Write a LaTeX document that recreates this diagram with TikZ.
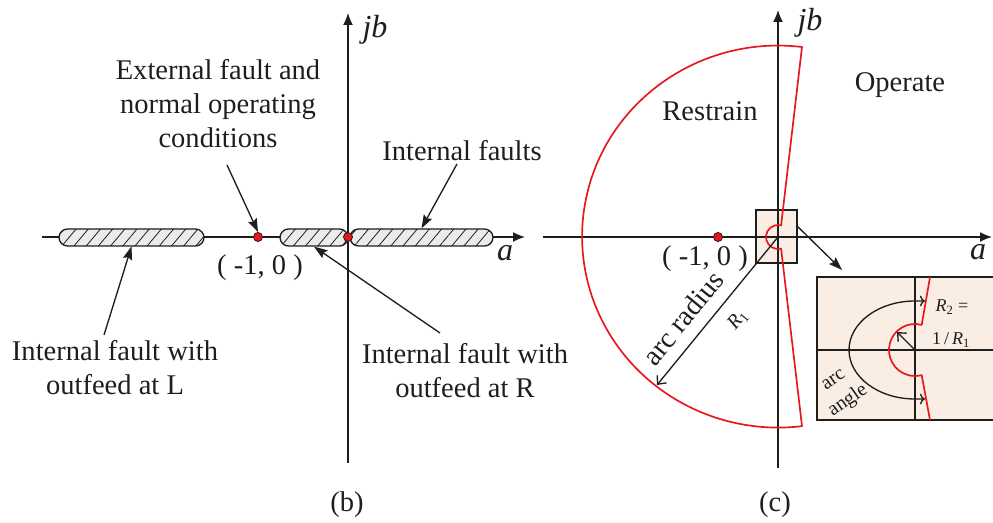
\documentclass[tikz,border=0pt]{standalone}
\usepackage{fontspec}
\setmainfont{Liberation Serif}
\usetikzlibrary{positioning,arrows.meta,patterns.meta}
\definecolor{zonered}{HTML}{E8161C}
\definecolor{inkgray}{HTML}{1E1E1E}
\definecolor{boxbeige}{HTML}{F9EDE4}
\definecolor{hatchgray}{HTML}{EBEBEB}
\begin{document}
\begin{tikzpicture}[x=0.75pt,y=-0.75pt,font=\fontsize{21.4}{25.5}\selectfont,text=inkgray,
axis/.style={line width=1.1pt,draw=inkgray,-{Latex[length=9pt,width=7.5pt]}},
pointer/.style={line width=1pt,draw=inkgray,-{Stealth[length=10pt,width=7pt,inset=1.5pt]}},
barb/.style={line width=1pt,draw=inkgray,-{Straight Barb[length=5pt,width=9pt]}},
bar/.style={draw=inkgray,line width=1pt,rounded corners=6.4pt,minimum height=12.75pt,inner sep=0pt,preaction={fill=hatchgray},pattern={Lines[angle=50,distance=7pt,line width=.6pt]},pattern color=inkgray},
reddot/.style={circle,draw=inkgray,line width=.6pt,fill=zonered,minimum size=6.8pt,inner sep=0pt},
zoomfill/.style={draw=inkgray,line width=1pt,fill=boxbeige,inner sep=0pt},
redline/.style={draw=zonered,line width=1.25pt,line join=round},
axlabel/.style={font=\fontsize{24}{28}\selectfont\itshape},
small/.style={font=\fontsize{15}{19}\selectfont},
tiny/.style={font=\fontsize{13.5}{16}\selectfont}]
\useasboundingbox (0,0) rectangle (993,523);
\clip (0,0) rectangle (993,523);
% zoom boxes of (c)
\node[zoomfill,minimum width=30.75pt,minimum height=39.75pt] (zoomBox) at (776.5,236.5) {};
\node[zoomfill,minimum width=137.25pt,minimum height=107.25pt] (zoomInset) at (908.5,348.5) {};
\coordinate (insetTop) at (915,277); \coordinate (insetBot) at (915,420);
\coordinate (insetLeft) at (817,350); \coordinate (insetRight) at (1000,350);
\draw[line width=1pt,draw=inkgray] (insetTop) -- (insetBot) (insetLeft) -- (insetRight);
% axes
\coordinate (axBw) at (42,237); \coordinate (axBe) at (525,237);
\coordinate (axBs) at (348,463); \coordinate (axBn) at (348,13);
\coordinate (axCw) at (543,237); \coordinate (axCe) at (992,237);
\coordinate (axCs) at (778,468); \coordinate (axCn) at (778,10);
\foreach \a/\b in {axBw/axBe,axBs/axBn,axCw/axCe,axCs/axCn}{\draw[axis] (\a) -- (\b);}
% (b) fault zones
\node[bar,minimum width=108.75pt] (barL) at (131.5,237.5) {};
\node[bar,minimum width=51pt] (barM) at (314,237.5) {};
\node[bar,minimum width=107.25pt] (barR) at (421.5,237.5) {};
\node[reddot] (dotA) at (258,237) {};
\node[reddot] (dotO) at (348,237) {};
\node[reddot] (dotC) at (718,237) {};
% (c) characteristic
\draw[redline] (802,47) arc[x radius=196,y radius=191,start angle=-83,end angle=-277] -- (781.1,248.6) arc[radius=12,start angle=-285,end angle=-75] -- cycle;
\draw[redline] (930,277) -- (921.7,324.9) arc[radius=26,start angle=-75,end angle=-285] -- (930,420);
\draw[barb,<->] (925,301) -- (915,301) arc[x radius=66,y radius=49,start angle=-90,end angle=-270] -- (925,399);
\coordinate (insetO) at (915,350); \coordinate (r2Tip) at (897,332);
\coordinate (originC) at (778,237); \coordinate (radiusTip) at (657,385);
\coordinate (insetTip) at (842,270);
\draw[barb] (insetO) -- (r2Tip);
\draw[barb] (originC) -- (radiusTip);
\draw[pointer] (zoomBox.25) -- (insetTip);
% texts of (b)
\node[align=center] (extTxt) at (218,104) {External fault and\\normal operating\\conditions};
\node (intTxt) at (462,151) {Internal faults};
\node[align=center] (outLTxt) at (115,368) {Internal fault with\\outfeed at L};
\node[align=center] (outRTxt) at (465,371) {Internal fault with\\outfeed at R};
\node (ptB) at (260,268) {( -1, 0 )};
\node[axlabel] (jbB) at (375,30) {jb};
\node[axlabel] (aB) at (505,253) {a};
\node (capB) at (347,505) {(b)};
\coordinate (extTail) at (227,165); \coordinate (intTail) at (457,164);
\coordinate (outLTail) at (104,335); \coordinate (outRTail) at (440,333);
\foreach \a/\b in {extTail/dotA.north,intTail/barR.north,outLTail/barL.south,outRTail/barM.south}{\draw[pointer] (\a) -- (\b);}
% texts of (c)
\node (restrain) at (710,111) {Restrain};
\node (operate) at (900,85) {Operate};
\node (ptC) at (705,259) {( -1, 0 )};
\node[axlabel] (jbC) at (810,23) {jb};
\node[axlabel] (aC) at (978,252) {a};
\node (capC) at (775,505) {(c)};
\node[rotate=50.7] (radTxt) at (683,318) {arc radius};
\node[small,rotate=50.7] (r1Txt) at (738,320) {\textit{R}\textsubscript{1}};
\node[tiny] (r2Txt) at (952,307) {\textit{R}\textsubscript{2} =};
\node[tiny] (r2Val) at (951,340) {1\,/\,\textit{R}\textsubscript{1}};
\node[small,align=center,rotate=35] (angTxt) at (842,392) {arc\\angle};
\end{tikzpicture}
\end{document}
